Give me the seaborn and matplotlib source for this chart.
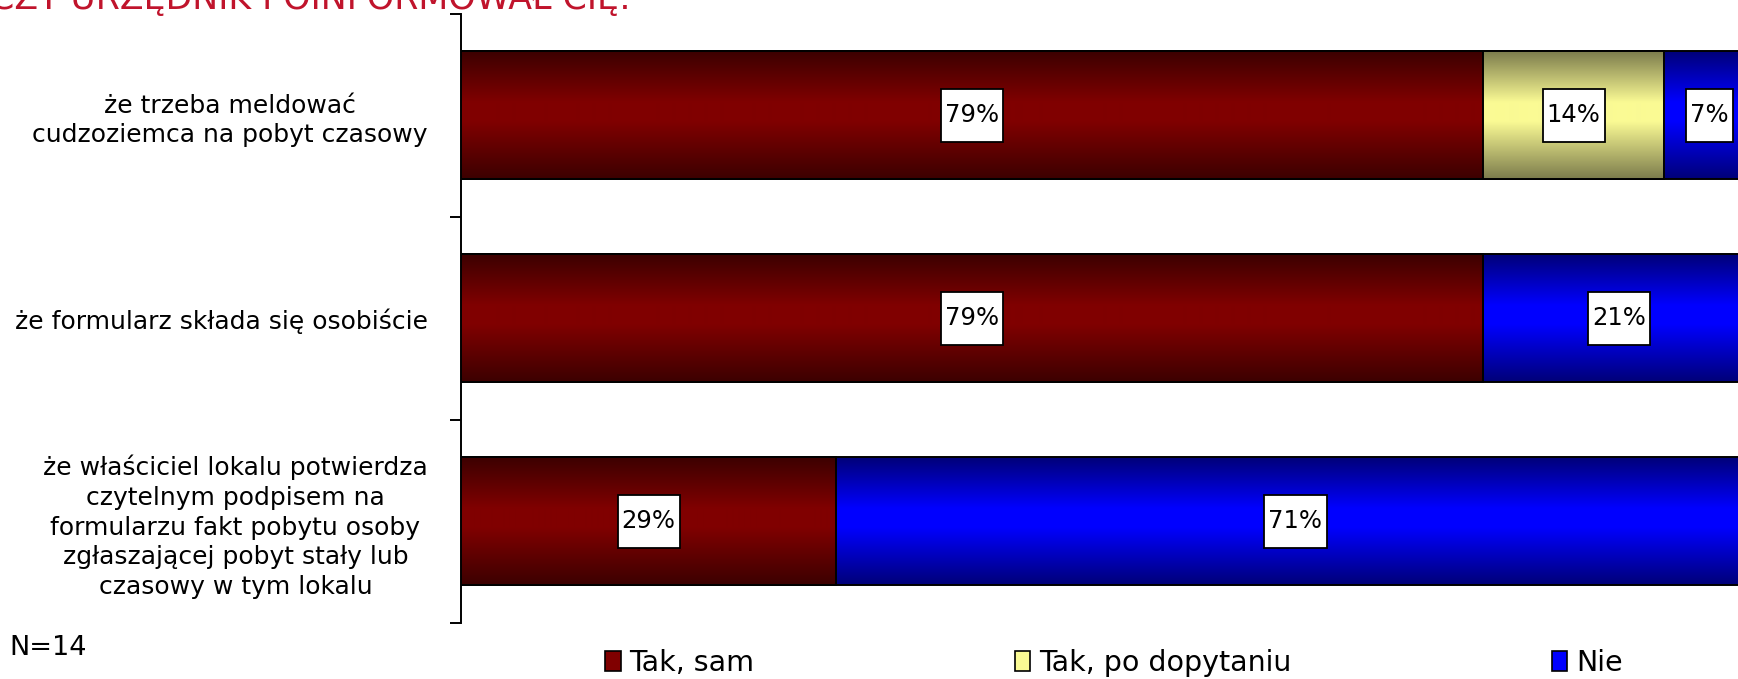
import numpy as np
import pandas as pd
import seaborn as sns
import matplotlib.pyplot as plt
from matplotlib.colors import LinearSegmentedColormap
from matplotlib.patches import Patch
from matplotlib.path import Path

categories = [
    "że trzeba meldować\ncudzoziemca na pobyt czasowy",
    "że formularz składa się osobiście",
    "że właściciel lokalu potwierdza\nczytelnym podpisem na\nformularzu fakt pobytu osoby\nzgłaszającej pobyt stały lub\nczasowy w tym lokalu",
]
series = ["Tak, sam", "Tak, po dopytaniu", "Nie"]
tak_sam = [79, 79, 29]
tak_po_dopytaniu = [14, 0, 0]
nie = [7, 21, 71]

title = "CZY URZĘDNIK POINFORMOWAŁ CIĘ:"
note = "N=14"

# gradient colours: edge of bar -> middle of bar
edge_cols = ["#3c0000", "#7c7c4c", "#000078"]
mid_cols = ["#800000", "#fafa94", "#0000ff"]

sns.set_style("white")
plt.rcParams['font.family'] = ['DejaVu Sans']
plt.rcParams['text.color'] = 'black'
plt.rcParams['ytick.color'] = 'black'
plt.rcParams['ytick.labelcolor'] = 'black'


def label_box(x0, y0, width, height, mutation_size):
    # wide-ish, tall box like the original data labels
    px = 0.17 * mutation_size
    py = 0.6 * mutation_size
    x0, y0 = x0 - px, y0 - py
    x1, y1 = x0 + width + 2 * px, y0 + height + 2 * py
    return Path([(x0, y0), (x1, y0), (x1, y1), (x0, y1), (x0, y0)],
                [Path.MOVETO, Path.LINETO, Path.LINETO, Path.LINETO, Path.CLOSEPOLY])


df = pd.DataFrame({"kat": categories, "sam": tak_sam, "po": tak_po_dopytaniu, "nie": nie})
df["c1"] = df["sam"]
df["c2"] = df["sam"] + df["po"]
df["c3"] = df["c2"] + df["nie"]

fig = plt.figure(figsize=(17.38, 6.79), dpi=100)
ax = fig.add_axes([0.2653, 0.0825, 0.7443, 0.8975])

grad = np.linspace(0, 1, 256).reshape(-1, 1)
layers = [("c3", 2), ("c2", 1), ("c1", 0)]
for k, (col, si) in enumerate(layers):
    sns.barplot(data=df, x=col, y="kat", ax=ax, color=mid_cols[si], width=0.63,
                orient="y", saturation=1)
    cont = ax.containers[-1]
    cmap = LinearSegmentedColormap.from_list(
        "g%d" % si, [(0, edge_cols[si]), (0.4, mid_cols[si]), (0.55, mid_cols[si]), (1, edge_cols[si])])
    z = 2 + 2 * k
    for p in cont.patches:
        x0, y0, w, h = p.get_x(), p.get_y(), p.get_width(), p.get_height()
        if w <= 0:
            continue
        ax.imshow(grad, extent=(x0, x0 + w, y0 + h, y0), cmap=cmap, aspect='auto',
                  interpolation='bilinear', zorder=z)
        p.set_facecolor('none')
        p.set_edgecolor('black')
        p.set_linewidth(1.4)
        p.set_zorder(z + 0.5)

ax.set_xlim(0, 100)
ax.set_ylim(2.5, -0.5)

# value labels
for i in range(len(categories)):
    left = 0
    for v in [tak_sam[i], tak_po_dopytaniu[i], nie[i]]:
        if v > 0:
            ax.text(left + v / 2, i, f"{v}%", ha='center', va='center', fontsize=17.5, zorder=20,
                    bbox=dict(boxstyle=label_box, fc='white', ec='black', lw=1.3))
        left += v

ax.set_xticks([])
ax.set_xlabel("")
ax.set_ylabel("")
ax.set_yticks(range(len(categories)))
ax.set_yticklabels(categories, fontsize=18, linespacing=1.3)
for lab in ax.get_yticklabels():
    lab.set_multialignment('center')
ax.tick_params(axis='y', which='major', length=0, pad=24)
ax.set_yticks([-0.5, 0.5, 1.5, 2.5], minor=True)
ax.tick_params(axis='y', which='minor', left=True, length=8, width=1.4, color='black')
for s in ['top', 'right', 'bottom']:
    ax.spines[s].set_visible(False)
ax.spines['left'].set_color('black')
ax.spines['left'].set_linewidth(1.4)

fig.text(-0.006, 1 - 9 / 679, title, color='#c0142c', fontsize=25, va='baseline', ha='left')
fig.text(9 / 1738, 1 - 648 / 679, note, fontsize=19.5, va='center', ha='left')

handles = [Patch(facecolor=mid_cols[i], edgecolor='black', lw=1.2, label=series[i]) for i in range(3)]
fig.legend(handles=handles, loc='center left', bbox_to_anchor=(605 / 1738, 1 - 663 / 679),
           ncol=3, frameon=False, fontsize=20.5, handlelength=0.55, handleheight=0.75,
           handletextpad=0.3, columnspacing=9.15, borderpad=0, borderaxespad=0)

fig.savefig("out.png", dpi=100)
